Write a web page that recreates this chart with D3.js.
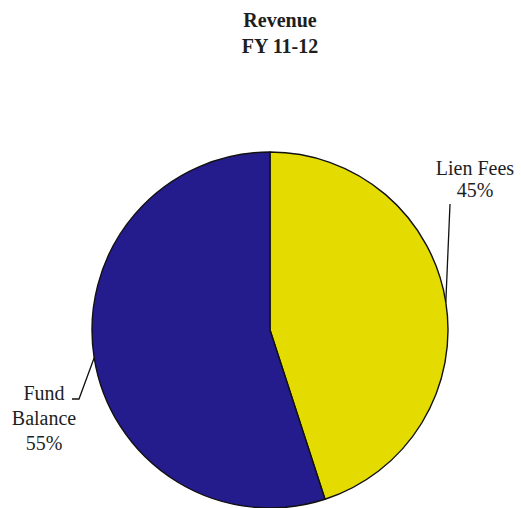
<!DOCTYPE html>
<html>
<head>
<meta charset="utf-8">
<script src="https://cdn.jsdelivr.net/npm/d3@7"></script>
<style>
  html, body { margin: 0; padding: 0; background: #fff; }
  svg { display: block; }
</style>
</head>
<body>
<script>
// Revenue sources, FY 11-12
const categories = ["Lien Fees", "Fund Balance"];
const shares = [45, 55];
const colors = ["#e4dc00", "#241c8c"];
const labelLines = [["Lien Fees", "45%"], ["Fund", "Balance", "55%"]];
const titleLines = ["Revenue", "FY 11-12"];

const W = 521, H = 508;
const cx = 270, cy = 330, R = 178;
const serif = "'Liberation Serif', 'Times New Roman', Times, serif";

const svg = d3.select("body").append("svg").attr("width", W).attr("height", H);

// title
svg.append("text")
  .attr("text-anchor", "middle")
  .style("font-family", serif)
  .attr("font-weight", "bold")
  .attr("font-size", 20)
  .attr("fill", "#1e1e1e")
  .selectAll("tspan").data(titleLines).join("tspan")
  .attr("x", 280).attr("y", (d, i) => 27 + i * 26)
  .text(d => d);

const pie = d3.pie().sort(null).startAngle(0).endAngle(2 * Math.PI);
const arcs = pie(shares);
const arc = d3.arc().innerRadius(0).outerRadius(R);

const g = svg.append("g").attr("transform", `translate(${cx},${cy})`);
g.selectAll("path").data(arcs).join("path")
  .attr("d", arc)
  .attr("fill", (d, i) => colors[i])
  .attr("stroke", "#111")
  .attr("stroke-width", 1.4)
  .attr("stroke-linejoin", "round");

// point on the rim at the middle of each slice
function rimPoint(d) {
  const a = (d.startAngle + d.endAngle) / 2;
  return [cx + R * Math.sin(a), cy - R * Math.cos(a)];
}

// label placement (text centre x, first baseline y, line step) and leader paths
const labelPos = [
  { x: 475, y: 175, step: 22 },
  { x: 44, y: 400, step: 25 }
];

const line = d3.line();
arcs.forEach((d, i) => {
  const p = rimPoint(d);
  const pts = i === 0
    ? [p, [450, 204]]
    : [p, [79, 399], [72, 399]];
  svg.append("path")
    .attr("d", line(pts))
    .attr("fill", "none")
    .attr("stroke", "#111")
    .attr("stroke-width", 1.3);

  svg.append("text")
    .attr("text-anchor", "middle")
    .style("font-family", serif)
    .attr("font-size", 20)
    .attr("fill", "#1e1e1e")
    .selectAll("tspan").data(labelLines[i]).join("tspan")
    .attr("x", labelPos[i].x)
    .attr("y", (t, j) => labelPos[i].y + j * labelPos[i].step)
    .text(t => t);
});
</script>
</body>
</html>
